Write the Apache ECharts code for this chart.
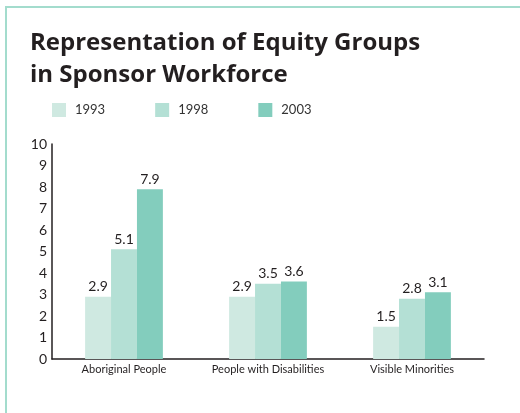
<!DOCTYPE html>
<html>
<head>
<meta charset="UTF-8">
<title>Representation of Equity Groups</title>
<style>
  html, body { margin: 0; padding: 0; background: #fff; }
  #main { width: 520px; height: 413px; }
</style>
</head>
<body>
<div id="main"></div>
<script src="https://cdn.jsdelivr.net/npm/echarts@6/dist/echarts.min.js"></script>
<script>
  // data
  var categories = ['Aboriginal People', 'People with Disabilities', 'Visible Minorities'];
  var years = ['1993', '1998', '2003'];
  var values1993 = [2.9, 2.9, 1.5];
  var values1998 = [5.1, 3.5, 2.8];
  var values2003 = [7.9, 3.6, 3.1];
  var yTicks = [0, 10, 1]; // min, max, step

  var colors = ['#cfe9e1', '#b4e0d5', '#83cdbd'];
  var textColor = '#231f20';
  var font = 'Lato, "DejaVu Sans", sans-serif';

  var chart = echarts.init(document.getElementById('main'));

  function makeSeries(name, data, color) {
    return {
      name: name,
      type: 'bar',
      data: data,
      barGap: 0,
      barCategoryGap: '46%',
      itemStyle: { color: color },
      label: {
        show: true,
        position: 'top',
        distance: 3,
        color: textColor,
        fontFamily: font,
        fontSize: 14,
        formatter: function (p) { return p.value.toFixed(1); }
      }
    };
  }

  var option = {
    animation: false,
    color: colors,
    title: {
      text: 'Representation of Equity Groups\nin Sponsor Workforce',
      left: 30,
      top: 27,
      padding: 0,
      textStyle: {
        color: textColor,
        fontFamily: '"Open Sans", sans-serif',
        fontWeight: 'bold',
        fontSize: 24,
        lineHeight: 32
      }
    },
    legend: {
      data: years,
      left: 52,
      top: 103,
      padding: 0,
      itemWidth: 14,
      itemHeight: 14,
      itemGap: 50,
      icon: 'rect',
      textStyle: { color: '#333', fontFamily: font, fontSize: 13, padding: [0, 0, 0, 4] }
    },
    grid: { left: 52, right: 36, top: 144, bottom: 54 },
    xAxis: {
      type: 'category',
      data: categories,
      axisLine: { lineStyle: { color: '#231f20', width: 1.5 } },
      axisTick: { show: false },
      axisLabel: { interval: 0, color: textColor, fontFamily: font, fontSize: 11, margin: 5 }
    },
    yAxis: {
      type: 'value',
      min: yTicks[0],
      max: yTicks[1],
      interval: yTicks[2],
      axisLine: { show: true, lineStyle: { color: '#231f20', width: 1.5 } },
      axisTick: { show: false },
      splitLine: { show: false },
      axisLabel: { color: textColor, fontFamily: font, fontSize: 14, margin: 5 }
    },
    graphic: [
      { type: 'rect', shape: { x: 5, y: 6, width: 2, height: 407 }, style: { fill: '#a3dccd' } },
      { type: 'rect', shape: { x: 5, y: 6, width: 515, height: 2 }, style: { fill: '#a3dccd' } }
    ],
    series: [
      makeSeries(years[0], values1993, colors[0]),
      makeSeries(years[1], values1998, colors[1]),
      makeSeries(years[2], values2003, colors[2])
    ]
  };

  chart.setOption(option);
</script>
</body>
</html>
